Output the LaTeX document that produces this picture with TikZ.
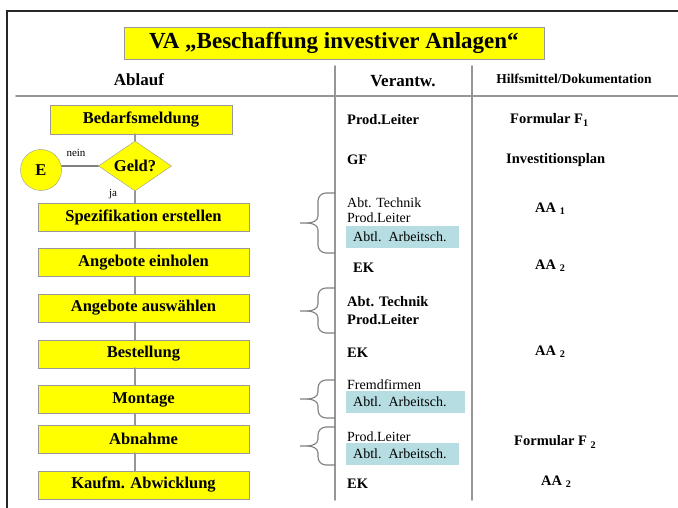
\documentclass[tikz,border=0pt]{standalone}
\usepackage{fontspec}
\setmainfont{Liberation Serif}
\usetikzlibrary{shapes.geometric}
\definecolor{ablaufgelb}{RGB}{255,255,0}
\definecolor{arbeitsblau}{RGB}{182,222,226}
\definecolor{liniengrau}{RGB}{150,150,150}

\begin{document}
\begin{tikzpicture}[x=1pt,y=-1pt,line cap=round]
	\tikzstyle{schritt}=[draw=gray!80,fill=ablaufgelb,minimum width=211pt,minimum height=28pt,inner sep=0pt,font=\fontsize{16.5}{16.5}\selectfont\bfseries];
	\tikzstyle{kopf}=[inner sep=0pt,font=\fontsize{17}{17}\selectfont\bfseries];
	\tikzstyle{fett}=[anchor=west,inner sep=0pt,font=\fontsize{14.5}{14.5}\selectfont\bfseries];
	\tikzstyle{duenn}=[anchor=west,inner sep=0pt,font=\fontsize{14}{14}\selectfont];
	\tikzstyle{blau}=[duenn,fill=arbeitsblau,inner xsep=7pt,text width=99pt,minimum height=22pt,align=left];
	\tikzstyle{verbindung}=[liniengrau,line width=1.8pt];
	\tikzstyle{tabelle}=[liniengrau,line width=1.8pt];
	\tikzstyle{klammer}=[gray,line width=1.1pt,line cap=butt];
	\useasboundingbox (0,0) rectangle (678,508);
	%% Rahmen
	\draw[black!85,line width=1.5pt] (7,508) -- (7,11) -- (678,11);
	%% Titel
	\node[draw=gray!80,fill=ablaufgelb,minimum width=420pt,minimum height=32pt,inner sep=0pt,
		font=\fontsize{23}{23}\selectfont\bfseries] (titel) at (334,43) {VA „Beschaffung investiver Anlagen“};
	%% Tabellenkopf
	\node[kopf] (ablauf)  at (139,80) {Ablauf};
	\node[kopf] (verantw) at (403,81) {Verantw.};
	\node[kopf,font=\fontsize{13.5}{13.5}\selectfont\bfseries] (hilfsm) at (574,79) {Hilfsmittel/Dokumentation};
	\draw[tabelle] (16,96) -- (678,96);
	\draw[tabelle] (335,66) -- (335,500);
	\draw[tabelle] (472,66) -- (472,500);
	%% Ablauf
	\node[schritt,minimum width=182pt,minimum height=29pt] (bedarf) at (141,119.5) {Bedarfsmeldung};
	\node[diamond,draw=gray!80,fill=ablaufgelb,minimum width=73pt,minimum height=50pt,inner sep=0pt,
		aspect=1.46,font=\fontsize{16.5}{16.5}\selectfont\bfseries] (geld) at (135,166) {Geld?};
	\node[circle,draw=gray!80,fill=ablaufgelb,minimum size=41pt,inner sep=0pt,
		font=\fontsize{16.5}{16.5}\selectfont\bfseries] (ende) at (41,170) {E};
	\node[font=\fontsize{11}{11}\selectfont,inner sep=0pt] (nein) at (76,153) {nein};
	\node[font=\fontsize{11}{11}\selectfont,inner sep=0pt] (ja) at (113,194) {ja};
	\node[schritt] (spez)       at (143.5,217)   {Spezifikation erstellen};
	\node[schritt] (einholen)   at (143.5,262.5) {Angebote einholen};
	\node[schritt] (auswahl)    at (143.5,308)   {Angebote auswählen};
	\node[schritt] (bestellung) at (143.5,354)   {Bestellung};
	\node[schritt] (montage)    at (143.5,399.5) {Montage};
	\node[schritt] (abnahme)    at (143.5,439)   {Abnahme};
	\node[schritt] (kaufm)      at (143.5,485)   {Kaufm. Abwicklung};
	%% Verbindungen
	\draw[verbindung] (bedarf.south -| geld) -- (geld.north);
	\draw[gray,line width=1.1pt] (ende.east |- geld.west) -- (geld.west);
	\foreach \a/\b in {geld/spez,spez/einholen,einholen/auswahl,auswahl/bestellung,
		bestellung/montage,montage/abnahme,abnahme/kaufm}
		\draw[verbindung] (\a.south -| geld) -- (\b.north -| geld);
	%% Klammern
	\foreach \t/\m/\b in {193/223/253,288/311/333,380/399/418,427/446/465}{
		\draw[klammer] (335,\t) -- (326,\t) to[out=180,in=90] (318,\t+8)
			-- (318,\m-7) to[out=-90,in=0] (307,\m) -- (300,\m);
		\draw[klammer] (335,\b) -- (326,\b) to[out=180,in=-90] (318,\b-8)
			-- (318,\m+7) to[out=90,in=0] (307,\m);
	}
	%% Verantwortung
	\node[fett]  (v1)  at (347,120) {Prod.Leiter};
	\node[fett]  (v2)  at (347,160) {GF};
	\node[duenn] (v3)  at (347,203) {Abt. Technik};
	\node[duenn] (v4)  at (347,218) {Prod.Leiter};
	\node[blau]  (v5)  at (346,237) {Abtl. Arbeitsch.};
	\node[fett]  (v6)  at (353,268) {EK};
	\node[fett]  (v7)  at (347,302) {Abt. Technik};
	\node[fett]  (v8)  at (347,320) {Prod.Leiter};
	\node[fett]  (v9)  at (347,353) {EK};
	\node[duenn] (v10) at (347,385) {Fremdfirmen};
	\node[blau,text width=105pt] (v11) at (346,402) {Abtl. Arbeitsch.};
	\node[duenn] (v12) at (347,437) {Prod.Leiter};
	\node[blau]  (v13) at (346,453.5) {Abtl. Arbeitsch.};
	\node[fett]  (v14) at (347,484) {EK};
	%% Hilfsmittel
	\node[fett] (h1) at (510,120) {Formular F\textsubscript{1}};
	\node[fett] (h2) at (506,160) {Investitionsplan};
	\node[fett] (h3) at (535,209) {AA \textsubscript{1}};
	\node[fett] (h4) at (535,266) {AA \textsubscript{2}};
	\node[fett] (h5) at (535,352) {AA \textsubscript{2}};
	\node[fett] (h6) at (514,442) {Formular F \textsubscript{2}};
	\node[fett] (h7) at (541,482) {AA \textsubscript{2}};
\end{tikzpicture}
\end{document}
